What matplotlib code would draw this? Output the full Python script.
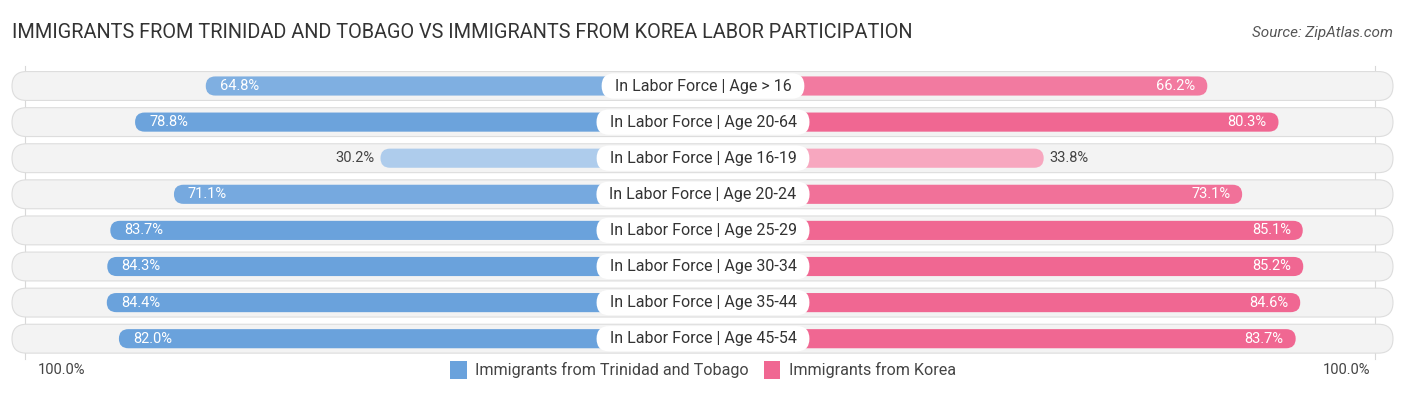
import numpy as np
import matplotlib
matplotlib.use("Agg")
import matplotlib.pyplot as plt
from matplotlib.patches import FancyBboxPatch

plt.rcParams['font.family'] = ['Roboto', 'DejaVu Sans']

# data
categories = ["In Labor Force | Age > 16", "In Labor Force | Age 20-64",
              "In Labor Force | Age 16-19", "In Labor Force | Age 20-24",
              "In Labor Force | Age 25-29", "In Labor Force | Age 30-34",
              "In Labor Force | Age 35-44", "In Labor Force | Age 45-54"]
trinidad = [64.8, 78.8, 30.2, 71.1, 83.7, 84.3, 84.4, 82.0]
korea = [66.2, 80.3, 33.8, 73.1, 85.1, 85.2, 84.6, 83.7]
series_names = ["Immigrants from Trinidad and Tobago", "Immigrants from Korea"]
title = "IMMIGRANTS FROM TRINIDAD AND TOBAGO VS IMMIGRANTS FROM KOREA LABOR PARTICIPATION"
source = "Source: ZipAtlas.com"

W, H = 1406, 395
fig = plt.figure(figsize=(W / 100, H / 100), dpi=100)
ax = fig.add_axes([0, 0, 1, 1])

pxx = 5.05      # pixels per percent
row_px = 36.1   # pixels per row
gap = 170 / pxx  # half-width of centre zone in percent units
y0 = 86         # pixel centre of first row
ax.set_xlim(-W / 2 / pxx, W / 2 / pxx)
ax.set_ylim((H - y0) / row_px, -y0 / row_px)
ax.axis('off')
asp = pxx / row_px


def col(base, light, v):
    # lighter shade for smaller values
    t = np.clip((v - 25) / 55, 0, 1)
    b = np.array(matplotlib.colors.to_rgb(base))
    l = np.array(matplotlib.colors.to_rgb(light))
    return tuple(l + (b - l) * t)


def pill(x, y, w, h, fc, ec='none', lw=0, z=1):
    r = (h * row_px / 2) / pxx
    p = FancyBboxPatch((x, y - h / 2), w, h,
                       boxstyle=f"round,pad=0,rounding_size={r}",
                       mutation_aspect=asp, fc=fc, ec=ec, lw=lw, zorder=z)
    ax.add_patch(p)


# faint 100% guide lines
for xv in (-gap - 100 - 0.5, gap + 100 - 0.5):
    ax.plot([xv, xv], [-0.55, len(categories) - 0.45], color='#d8d8d8', lw=0.8, zorder=0.5)

xl = -W / 2 / pxx + 12 / pxx
xr = W / 2 / pxx - 13 / pxx
labels = []
for i, cat in enumerate(categories):
    pill(xl, i, xr - xl, 0.8, '#f3f3f3', ec='#dddddd', lw=0.8, z=1)
    vl, vr = trinidad[i], korea[i]
    pill(-gap - vl, i, gap + vl, 0.53, col('#6aa2dc', '#b5d0ee', vl), z=2)
    pill(0, i, gap + vr, 0.53, col('#f06792', '#f8b3c8', vr), z=2)
    if vl > 45:
        ax.text(-gap - vl + 14 / pxx, i, f"{vl:.1f}%", color='white', fontsize=10.5,
                ha='left', va='center', zorder=4)
    else:
        ax.text(-gap - vl - 6 / pxx, i, f"{vl:.1f}%", color='#444444', fontsize=10.5,
                ha='right', va='center', zorder=4)
    if vr > 45:
        ax.text(gap + vr - 12 / pxx, i, f"{vr:.1f}%", color='white', fontsize=10.5,
                ha='right', va='center', zorder=4)
    else:
        ax.text(gap + vr + 6 / pxx, i, f"{vr:.1f}%", color='#444444', fontsize=10.5,
                ha='left', va='center', zorder=4)
    labels.append(ax.text(0, i, cat, color='#333333', fontsize=11.5, ha='center',
                          va='center', zorder=6))

# white label boxes sized to the text
fig.canvas.draw()
rend = fig.canvas.get_renderer()
for i, t in enumerate(labels):
    bb = t.get_window_extent(rend)
    w = (bb.width + 26) / pxx
    pill(-w / 2, i, w, 0.7, 'white', z=5)

# title and source
fig.text(12 / W, 1 - 33 / H, title, fontsize=14.3, color='#333333', ha='left', va='center')
fig.text(1 - 13 / W, 1 - 33 / H, source, fontsize=11, color='#555555', ha='right',
         va='center', style='italic')

# bottom axis labels
yb = 1 - 370 / H
fig.text(38 / W, yb, "100.0%", fontsize=10.5, color='#444444', ha='left', va='center')
fig.text(1370 / W, yb, "100.0%", fontsize=10.5, color='#444444', ha='right', va='center')

# legend
leg = fig.legend(handles=[plt.Rectangle((0, 0), 1, 1, fc='#6aa2dc'),
                          plt.Rectangle((0, 0), 1, 1, fc='#f06792')],
                 labels=series_names, loc='center', bbox_to_anchor=(0.5, yb), ncol=2,
                 frameon=False, fontsize=11.6, handlelength=1.0, handleheight=1.3,
                 handletextpad=0.5, columnspacing=1.0, labelcolor='#444444')

fig.savefig("out.png", dpi=100)
